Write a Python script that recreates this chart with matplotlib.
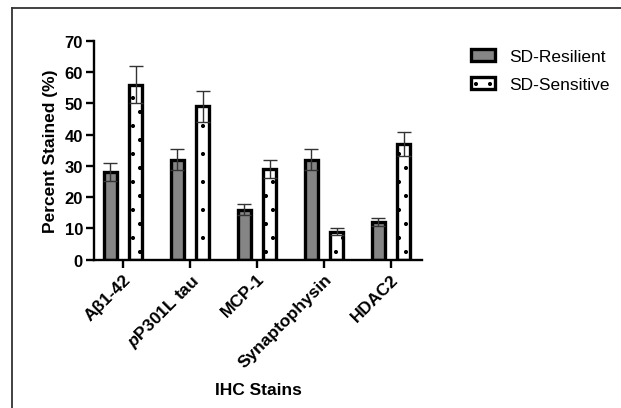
import numpy as np
import matplotlib
matplotlib.use("Agg")
import matplotlib.pyplot as plt
from matplotlib.lines import Line2D

# dpi chosen so the '.' hatch has about the dot spacing of the original
DPI = 84
K = 100 / DPI  # sizes below were tuned at 100 dpi

plt.rcParams["font.family"] = ["Liberation Sans", "DejaVu Sans"]
plt.rcParams["mathtext.fontset"] = "custom"
plt.rcParams["mathtext.bfit"] = "Liberation Sans:italic:bold"
plt.rcParams["mathtext.bf"] = "Liberation Sans:bold"
plt.rcParams["mathtext.rm"] = "Liberation Sans"
plt.rcParams["hatch.linewidth"] = 0.9 * K

stains = ["A\u03b21-42", r"$\mathbfit{p}$P301L tau", "MCP-1", "Synaptophysin", "HDAC2"]
resilient = [28, 32, 16, 32, 12]
resilient_err = [2.9, 3.4, 1.7, 3.4, 1.2]
sensitive = [56, 49, 29, 9, 37]
sensitive_err = [5.8, 5.0, 3.0, 1.0, 3.8]

fig = plt.figure(figsize=(621 / DPI, 409 / DPI), dpi=DPI)
ax = fig.add_axes([94/621, 1-260.7/409, (422-94)/621, (260.7-41.7)/409])

x = np.arange(len(stains))
w = 0.2
off = 0.19
ax.bar(x - off, resilient, w, color="#858585", edgecolor="black", linewidth=2.4*K,
       label="SD-Resilient", zorder=2)
ax.bar(x + off, sensitive, w, color="white", edgecolor="black", linewidth=2.4*K,
       hatch=".", label="SD-Sensitive", zorder=2)
ax.errorbar(x - off, resilient, yerr=resilient_err, fmt="none", ecolor="#333333",
            elinewidth=1.0*K, capsize=4.7*K, capthick=1.0*K, zorder=3)
ax.errorbar(x + off, sensitive, yerr=sensitive_err, fmt="none", ecolor="#333333",
            elinewidth=1.0*K, capsize=4.7*K, capthick=1.0*K, zorder=3)

ax.set_xlim(-0.433, 4.463)
ax.set_ylim(0, 70)
ax.set_yticks(range(0, 71, 10))
ax.set_xticks(x)
ax.set_xticklabels(stains, rotation=45, ha="right", rotation_mode="anchor",
                   fontsize=12.5*K, fontweight="bold")
for lab in ax.get_yticklabels():
    lab.set_fontsize(12*K)
    lab.set_fontweight("bold")

for s in ["top", "right"]:
    ax.spines[s].set_visible(False)
for s in ["left", "bottom"]:
    ax.spines[s].set_linewidth(1.7*K)
ax.tick_params(axis="both", length=6*K, width=1.7*K, pad=2*K)

ax.set_ylabel("Percent Stained (%)", fontsize=12.5*K, fontweight="bold", labelpad=5*K)
ax.set_xlabel("IHC Stains", fontsize=12.5*K, fontweight="bold", labelpad=9*K)

ax.legend(loc="upper left", bbox_to_anchor=(471/621, 1-50/409), bbox_transform=fig.transFigure,
          frameon=False, fontsize=12.5*K, handlelength=1.38, handleheight=0.7,
          handletextpad=0.8, labelspacing=0.75, borderpad=0, borderaxespad=0)

# outer frame around the figure
fig.add_artist(Line2D([12/621, 12/621], [-0.05, 1-9/409], transform=fig.transFigure,
                      color="#333333", linewidth=1.3*K))
fig.add_artist(Line2D([12/621, 1.05], [1-9/409, 1-9/409], transform=fig.transFigure,
                      color="#333333", linewidth=1.3*K))

fig.savefig("out.png", dpi=DPI)
